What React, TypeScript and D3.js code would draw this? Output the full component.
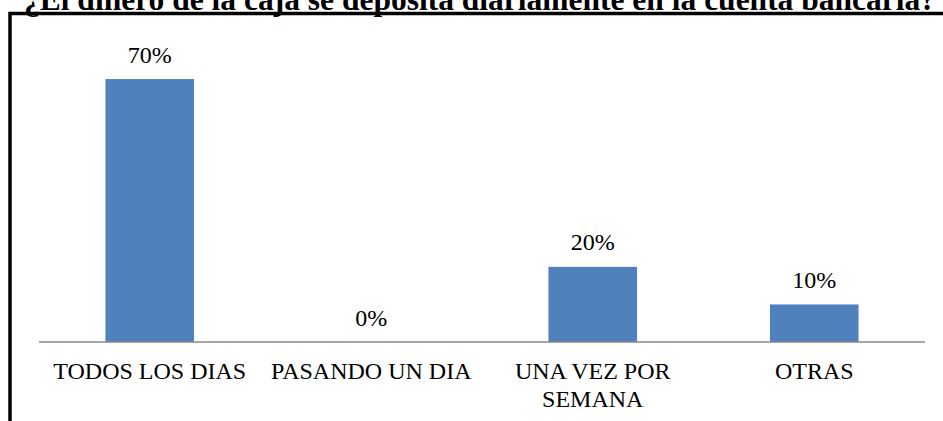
import React, { useRef, useEffect } from 'react';
import { select, scaleBand, scaleLinear } from 'd3';

const title = '¿El dinero de la caja se deposita diariamente en la cuenta bancaria?';
const categories = ['TODOS LOS DIAS', 'PASANDO UN DIA', 'UNA VEZ POR SEMANA', 'OTRAS'];
const values = [70, 0, 20, 10];

const width = 943;
const height = 421;
const font = "'Liberation Serif', 'DejaVu Serif', serif";

// wrap long category labels onto several lines
function wrap(textSel, maxWidth) {
    textSel.each(function () {
        const text = select(this);
        const words = text.text().split(/\s+/);
        const x = text.attr('x');
        const y = text.attr('y');
        text.text(null);
        let line = [];
        let lineNo = 0;
        let tspan = text.append('tspan').attr('x', x).attr('y', y);
        words.forEach((w) => {
            line.push(w);
            tspan.text(line.join(' '));
            if (tspan.node().getComputedTextLength() > maxWidth && line.length > 1) {
                line.pop();
                tspan.text(line.join(' '));
                line = [w];
                lineNo += 1;
                tspan = text.append('tspan').attr('x', x).attr('y', +y + lineNo * 28).text(w);
            }
        });
    });
}

export default function App() {
    const svgRef = useRef(null);

    useEffect(() => {
        const svg = select(svgRef.current);
        svg.selectAll('*').remove();

        const x = scaleBand()
            .domain(categories)
            .range([39, 925])
            .paddingInner(0.6)
            .paddingOuter(0.3);

        const y = scaleLinear()
            .domain([0, 80])
            .range([342, 41.5]);

        // title (partly cut off at the top, as in the source)
        svg.append('text')
            .attr('x', 480)
            .attr('y', 10)
            .attr('text-anchor', 'middle')
            .attr('font-family', font)
            .attr('font-weight', 'bold')
            .attr('font-size', 31.5)
            .attr('fill', '#000')
            .text(title);

        // chart border (top and left only)
        svg.append('path')
            .attr('d', `M10,${height} L10,13.5 L${width},13.5`)
            .attr('fill', 'none')
            .attr('stroke', '#000')
            .attr('stroke-width', 3.5);

        // bars
        svg.selectAll('rect.bar')
            .data(values)
            .join('rect')
            .attr('class', 'bar')
            .attr('x', (d, i) => x(categories[i]))
            .attr('y', d => y(d))
            .attr('width', x.bandwidth())
            .attr('height', d => y(0) - y(d))
            .attr('fill', '#4F81BD');

        // axis line
        svg.append('line')
            .attr('x1', 39)
            .attr('x2', 925)
            .attr('y1', y(0))
            .attr('y2', y(0))
            .attr('stroke', '#898989')
            .attr('stroke-width', 1.5);

        // value labels
        svg.selectAll('text.value')
            .data(values)
            .join('text')
            .attr('class', 'value')
            .attr('x', (d, i) => x(categories[i]) + x.bandwidth() / 2)
            .attr('y', d => y(d) - 16.5)
            .attr('text-anchor', 'middle')
            .attr('font-family', font)
            .attr('font-size', 24)
            .attr('fill', '#000')
            .text(d => `${d}%`);

        // category labels
        svg.selectAll('text.cat')
            .data(categories)
            .join('text')
            .attr('class', 'cat')
            .attr('x', d => x(d) + x.bandwidth() / 2)
            .attr('y', 379)
            .attr('text-anchor', 'middle')
            .attr('font-family', font)
            .attr('font-size', 24)
            .attr('fill', '#000')
            .text(d => d)
            .call(wrap, x.step());
    }, []);

    return (
        <svg
            ref={svgRef}
            width={width}
            height={height}
            style={{ position: 'absolute', left: 0, top: 0, background: '#fff' }}
        ></svg>
    );
}
